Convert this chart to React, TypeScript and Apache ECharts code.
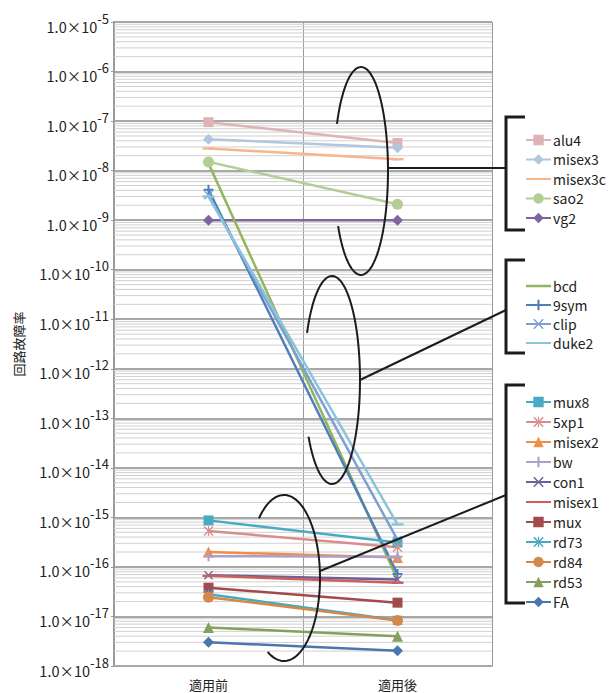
import React, { useEffect, useRef } from 'react';
import * as echarts from 'echarts';

// ---- data ----
const categories = ['適用前', '適用後'];
const yTickExponents = [-18, -17, -16, -15, -14, -13, -12, -11, -10, -9, -8, -7, -6, -5];
const minorMultipliers = [2, 3, 4, 5, 6, 7, 8, 9];

const alu4 = [9.5e-8, 3.6e-8];
const misex3 = [4.3e-8, 2.9e-8];
const misex3c = [2.8e-8, 1.7e-8];
const sao2 = [1.5e-8, 2.1e-9];
const vg2 = [1.0e-9, 1.0e-9];

const bcd = [1.4e-8, 5.6e-17];
const sym9 = [4.1e-9, 7.2e-17];
const clip = [3.2e-9, 3.5e-16];
const duke2 = [3.0e-9, 7.2e-16];

const mux8 = [8.7e-16, 3.1e-16];
const xp5 = [5.3e-16, 2.5e-16];
const misex2 = [2.0e-16, 1.55e-16];
const bw = [1.65e-16, 1.6e-16];
const con1 = [6.8e-17, 5.6e-17];
const misex1 = [6.6e-17, 4.8e-17];
const mux = [3.8e-17, 1.9e-17];
const rd73 = [2.8e-17, 8.4e-18];
const rd84 = [2.45e-17, 8.3e-18];
const rd53 = [6.0e-18, 4.0e-18];
const FA = [3.0e-18, 2.04e-18];

const group1 = ['alu4', 'misex3', 'misex3c', 'sao2', 'vg2'];
const group2 = ['bcd', '9sym', 'clip', 'duke2'];
const group3 = ['mux8', '5xp1', 'misex2', 'bw', 'con1', 'misex1', 'mux', 'rd73', 'rd84', 'rd53', 'FA'];

const seriesData: Record<string, number[]> = {
  alu4, misex3, misex3c, sao2, vg2,
  bcd, '9sym': sym9, clip, duke2,
  mux8, '5xp1': xp5, misex2, bw, con1, misex1, mux, rd73, rd84, rd53, FA,
};

// ---- styles ----
const PLUS = 'path://M4,0H6V4H10V6H6V10H4V6H0V4H4Z';
const CROSS = 'path://M1,0L5,4L9,0L10,1L6,5L10,9L9,10L5,6L1,10L0,9L4,5L0,1Z';
const STAR = 'path://M1,0L5,4L9,0L10,1L6,5L10,9L9,10L5,6L1,10L0,9L4,5L0,1Z M4.4,0H5.6V3.6H4.4Z M4.4,6.4H5.6V10H4.4Z';
const DASH = 'path://M0,0L0,0M10,10L10,10M0,4H10V6H0Z';
const LINE_ICON = 'path://M0,0L0,0M0,5.25H25V7.75H0ZM25,13L25,13';

const styles: Record<string, { color: string; symbol: string; size: number }> = {
  alu4: { color: '#DDB3B5', symbol: 'rect', size: 10 },
  misex3: { color: '#B3C6E0', symbol: 'diamond', size: 11 },
  misex3c: { color: '#F9B48C', symbol: DASH, size: 12 },
  sao2: { color: '#B4CD94', symbol: 'circle', size: 11 },
  vg2: { color: '#7F64A0', symbol: 'diamond', size: 11 },
  bcd: { color: '#93B55E', symbol: 'none', size: 10 },
  '9sym': { color: '#4F7FBA', symbol: PLUS, size: 10 },
  clip: { color: '#7E9FD2', symbol: CROSS, size: 9 },
  duke2: { color: '#88C5DA', symbol: DASH, size: 12 },
  mux8: { color: '#47ACC3', symbol: 'rect', size: 10 },
  '5xp1': { color: '#D98E8E', symbol: STAR, size: 10 },
  misex2: { color: '#F08E45', symbol: 'triangle', size: 11 },
  bw: { color: '#ABA0CB', symbol: PLUS, size: 10 },
  con1: { color: '#6F5E98', symbol: CROSS, size: 9 },
  misex1: { color: '#CB5F5D', symbol: DASH, size: 12 },
  mux: { color: '#A24A4C', symbol: 'rect', size: 10 },
  rd73: { color: '#46A9BF', symbol: STAR, size: 10 },
  rd84: { color: '#D4884A', symbol: 'circle', size: 11 },
  rd53: { color: '#84A05C', symbol: 'triangle', size: 11 },
  FA: { color: '#4B78AC', symbol: 'diamond', size: 11 },
};

const FONT = '"Noto Sans CJK JP", "Noto Sans", sans-serif';

function arcPoints(cx: number, cy: number, rx: number, ry: number, a0: number, a1: number) {
  const pts: number[][] = [];
  const n = 80;
  for (let i = 0; i <= n; i++) {
    const t = ((a0 + ((a1 - a0) * i) / n) * Math.PI) / 180;
    pts.push([cx + rx * Math.cos(t), cy + ry * Math.sin(t)]);
  }
  return pts;
}

export default function App() {
  const ref = useRef<HTMLDivElement>(null);
  useEffect(() => {
    if (!ref.current) return;
    const chart = echarts.init(ref.current, undefined, { renderer: 'svg' });

    // minor gridlines at 2..9 × 10^n, placed through the log axis
    const minorVals: number[][] = [];
    yTickExponents.slice(0, -1).forEach((n) => {
      minorMultipliers.forEach((k) => minorVals.push([0, k * Math.pow(10, n)]));
    });

    const allNames = [...group1, ...group2, ...group3];
    const series: any[] = [
      {
        name: '__minorgrid',
        type: 'custom',
        silent: true,
        z: 1,
        data: minorVals,
        encode: { x: 0, y: 1 },
        renderItem: (params: any, api: any) => {
          const cs = params.coordSys;
          const y = api.coord([0, api.value(1)])[1];
          return {
            type: 'line',
            shape: { x1: cs.x, y1: y, x2: cs.x + cs.width, y2: y },
            style: { stroke: '#d0d0d0', lineWidth: 1 },
          };
        },
      },
    ];
    allNames.forEach((name) => {
      const st = styles[name];
      series.push({
        name,
        type: 'line',
        data: seriesData[name],
        z: 3,
        symbol: st.symbol,
        symbolSize: st.size,
        showSymbol: st.symbol !== 'none',
        lineStyle: { color: st.color, width: 2.5 },
        itemStyle: { color: st.color, borderWidth: 0 },
        emphasis: { disabled: true },
      });
    });

    const legendBase = {
      orient: 'vertical',
      left: 520,
      itemWidth: 25,
      itemHeight: 13,
      selectedMode: false,
      textStyle: { fontSize: 14, color: '#222', fontFamily: FONT, padding: [0, 0, 0, -3] },
    };
    const legendData = (names: string[]) =>
      names.map((n) => (styles[n].symbol === 'none' ? { name: n, icon: LINE_ICON } : { name: n }));

    const ink = '#1c1c1c';
    const Z = 100;
    const graphics: any[] = [
      // brackets
      { type: 'polyline', z: Z, silent: true, shape: { points: [[525, 117], [506, 117], [506, 230], [525, 230]] }, style: { stroke: ink, lineWidth: 3, fill: 'none' } },
      { type: 'polyline', z: Z, silent: true, shape: { points: [[525, 260], [506, 260], [506, 353], [525, 353]] }, style: { stroke: ink, lineWidth: 3, fill: 'none' } },
      { type: 'polyline', z: Z, silent: true, shape: { points: [[525, 385], [506, 385], [506, 603], [525, 603]] }, style: { stroke: ink, lineWidth: 3, fill: 'none' } },
      // ellipses
      { type: 'polyline', z: Z, silent: true, shape: { points: arcPoints(361, 171, 27, 104, 207, 508) }, style: { stroke: ink, lineWidth: 2, fill: 'none' } },
      { type: 'polyline', z: Z, silent: true, shape: { points: arcPoints(332, 380, 28, 104, 207, 507) }, style: { stroke: ink, lineWidth: 2, fill: 'none' } },
      { type: 'polyline', z: Z, silent: true, shape: { points: arcPoints(284, 578, 36, 83, 226, 477) }, style: { stroke: ink, lineWidth: 2, fill: 'none' } },
      // connectors
      { type: 'line', z: Z, silent: true, shape: { x1: 388, y1: 168, x2: 506, y2: 168 }, style: { stroke: ink, lineWidth: 2 } },
      { type: 'line', z: Z, silent: true, shape: { x1: 360, y1: 380, x2: 506, y2: 310 }, style: { stroke: ink, lineWidth: 2 } },
      { type: 'line', z: Z, silent: true, shape: { x1: 320, y1: 571, x2: 506, y2: 495 }, style: { stroke: ink, lineWidth: 2 } },
    ];

    const option: any = {
      animation: false,
      backgroundColor: '#ffffff',
      textStyle: { fontFamily: FONT },
      grid: { left: 114, right: 118, top: 22, bottom: 27 },
      legend: [
        { ...legendBase, top: 128, itemGap: 5.5, data: legendData(group1) },
        { ...legendBase, top: 274, itemGap: 5, data: legendData(group2) },
        { ...legendBase, top: 390, itemGap: 6, data: legendData(group3) },
      ],
      xAxis: {
        type: 'category',
        data: categories,
        boundaryGap: true,
        axisLine: { lineStyle: { color: '#a8a8a8', width: 2 } },
        axisTick: { show: false },
        axisLabel: { color: '#222', fontSize: 13, margin: 12, fontFamily: FONT },
        splitLine: { show: true, lineStyle: { color: '#9a9a9a', width: 1 } },
      },
      yAxis: {
        type: 'log',
        logBase: 10,
        min: Math.pow(10, yTickExponents[0]),
        max: Math.pow(10, yTickExponents[yTickExponents.length - 1]),
        interval: 1,
        name: '回路故障率',
        nameLocation: 'middle',
        nameGap: 89,
        nameTextStyle: { fontSize: 13, color: '#222', fontFamily: FONT },
        axisLine: { show: true, lineStyle: { color: '#9a9a9a', width: 2 } },
        axisTick: { show: true, length: 3, lineStyle: { color: '#9a9a9a' } },
        splitLine: { show: true, lineStyle: { color: '#a8a8a8', width: 2 } },
        axisLabel: {
          margin: 5,
          formatter: (v: number) => `{b|1.0×10}{s|${Math.round(Math.log10(v))}}`,
          rich: {
            b: { fontSize: 14.5, color: '#222', fontFamily: FONT, padding: [8, 0, 0, 0] },
            s: { fontSize: 13, color: '#222', fontFamily: FONT, padding: [0, 0, 8, 0] },
          },
        },
      },
      series,
      graphic: { elements: graphics },
    };
    chart.setOption(option);
    return () => chart.dispose();
  }, []);

  return (
    <div
      ref={ref}
      style={{ position: 'fixed', left: 0, top: 0, width: 610, height: 693, background: '#fff' }}
    />
  );
}
